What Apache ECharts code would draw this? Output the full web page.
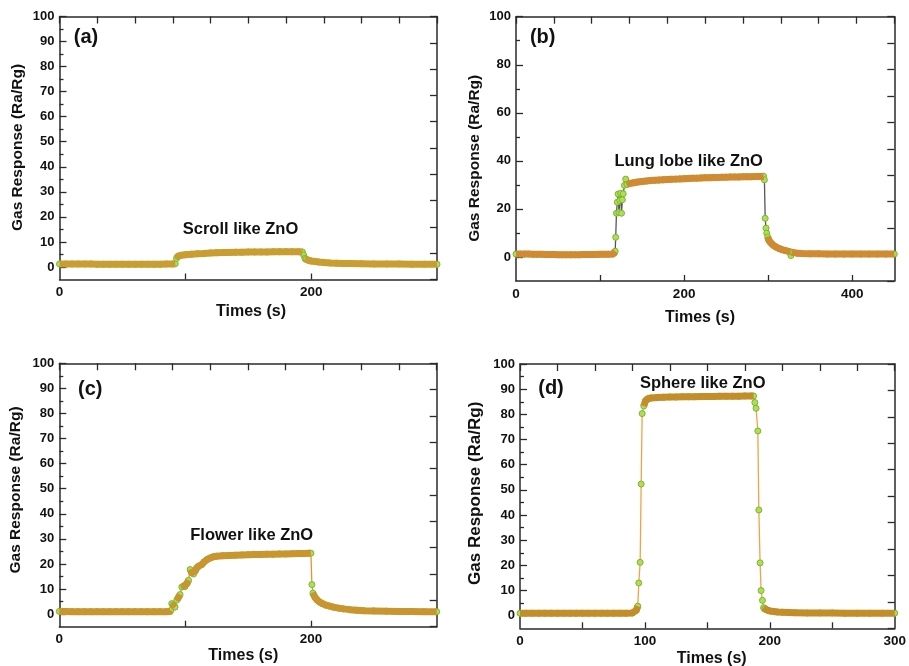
<!DOCTYPE html>
<html>
<head>
<meta charset="utf-8">
<script src="https://cdn.jsdelivr.net/npm/echarts@6/dist/echarts.min.js"></script>
<style>
html,body{margin:0;padding:0;background:#fff;}
#chart{width:909px;height:666px;}
</style>
</head>
<body>
<div id="chart"></div>
<script>
// ---------------- DATA ----------------
// (a) Scroll like ZnO
const timeA = [0,5,10,15,20,25,30,35,40,45,50,55,60,65,70,75,80,85,90,
  92,93,94,95,97,
  100,105,110,115,120,125,130,135,140,145,150,155,160,165,170,175,180,185,190,
  193,194,195,196,198,
  200,203,206,210,215,220,225,230,
  240,250,260,270,280,290,300];
const respA = [1.2,1.2,1.2,1.2,1.2,1.2,1.1,1.1,1.1,1.1,1.1,1.1,1.1,1.1,1.1,1.1,1.1,1.2,1.2,
  1.3,3.4,4.2,4.5,4.7,
  4.9,5.1,5.3,5.4,5.6,5.7,5.8,5.8,5.9,5.9,6.0,6.0,6.0,6.0,6.1,6.1,6.1,6.1,6.1,
  6.0,4.8,3.4,3.0,2.6,
  2.4,2.2,2.0,1.8,1.6,1.5,1.4,1.4,
  1.3,1.2,1.2,1.2,1.1,1.1,1.1];

// (b) Lung lobe like ZnO
const timeB = [0,5,10,15,20,25,30,35,40,45,50,55,60,65,70,75,80,85,90,95,100,105,110,115,
  117,118,118.6,119.5,120.5,121.5,122.5,123.5,124.5,125.5,126.5,127.5,129,130.5,132,
  135,140,145,150,155,160,165,170,175,180,185,190,195,200,205,210,215,220,225,230,235,240,245,250,255,260,265,270,275,280,285,290,
  293,294.5,295.5,296.4,297.4,298.3,299.5,300.5,302,304,306,308,310,313,316,320,325,326,327,328,330,335,340,
  350,360,370,380,390,400,410,420,430,440,450];
const respB = [1.2,1.2,1.2,1.2,1.1,1.1,1.1,1.0,1.0,1.0,0.9,0.9,0.9,0.9,0.9,0.9,1.0,1.0,1.0,1.0,1.1,1.1,1.1,1.2,
  1.6,2.4,8.2,18.2,22.8,26.2,18.5,23.5,26.5,18.2,23.8,26.3,29.8,32.4,30.2,
  30.6,30.9,31.2,31.4,31.6,31.8,31.9,32.0,32.1,32.2,32.3,32.4,32.5,32.6,32.7,32.8,32.8,32.9,33.0,33.0,33.1,33.1,33.2,33.2,33.3,33.3,33.3,33.4,33.4,33.4,33.5,33.5,
  33.5,33.6,32.1,16.1,12.0,9.9,8.3,7.2,6.3,5.5,4.9,4.4,4.0,3.5,3.1,2.7,2.2,2.1,0.6,2.0,1.8,1.5,1.4,
  1.3,1.3,1.2,1.2,1.2,1.2,1.2,1.2,1.2,1.2,1.2];

// (c) Flower like ZnO
const timeC = [0,5,10,15,20,25,30,35,40,45,50,55,60,65,70,75,80,85,
  88,88.6,89.4,90.7,92,93.4,94.5,96,97.4,99,100,101.5,102.7,104,105.3,106.7,108,109.4,111,113.3,115,117.3,120,122.6,125,
  130,135,140,145,150,155,160,165,170,175,180,185,190,195,
  198,200,200.8,201.6,202.5,203.5,205,207,209,212,215,218,222,226,231,236,242,250,
  260,270,280,290,300];
const respC = [1.1,1.1,1.0,1.0,1.0,1.0,1.0,1.0,1.0,1.0,1.0,1.0,1.0,1.0,1.0,1.0,1.0,1.0,
  1.1,1.5,4.2,3.6,2.8,5.6,6.5,7.8,10.8,11.2,11.0,12.2,13.5,17.8,16.5,16.0,17.2,18.5,19.2,19.8,20.8,21.7,22.4,22.9,23.1,
  23.3,23.4,23.5,23.6,23.7,23.8,23.8,23.9,23.9,24.0,24.0,24.1,24.2,24.2,
  24.3,24.3,11.8,8.4,7.4,6.5,5.6,4.8,4.2,3.6,3.2,2.8,2.4,2.1,1.8,1.6,1.4,1.3,
  1.2,1.1,1.1,1.0,1.0];

// (d) Sphere like ZnO
const timeD = [0,5,10,15,20,25,30,35,40,45,50,55,60,65,70,75,80,85,90,
  93,94.3,95.1,96.2,97,97.8,99.1,100.4,101.5,103,105,
  110,115,120,125,130,135,140,145,150,155,160,165,170,175,180,185,
  187,188,189,190.4,191.2,192.2,193,194.1,195,196,198,200,203,206,210,215,220,
  230,240,250,260,270,280,290,300];
const respD = [1.0,1.0,1.0,1.0,1.0,1.0,1.0,1.0,1.0,1.0,1.0,1.0,1.0,1.0,1.0,1.0,1.0,1.0,1.1,
  2.1,3.8,13.0,21.2,52.3,80.3,83.3,85.3,86.0,86.3,86.5,
  86.7,86.8,86.9,86.9,87.0,87.0,87.0,87.1,87.1,87.1,87.2,87.2,87.2,87.2,87.3,87.3,
  87.3,84.7,82.4,73.4,42.0,21.0,10.0,6.1,3.2,2.6,2.2,1.9,1.7,1.5,1.4,1.3,1.2,
  1.1,1.1,1.1,1.0,1.0,1.0,1.0,1.0];

// tick labels
const yLabelsACD = [0,10,20,30,40,50,60,70,80,90,100];
const yLabelsB = [0,20,40,60,80,100];
const xLabelsA = [0,200];
const xLabelsB = [0,200,400];
const xLabelsC = [0,200];
const xLabelsD = [0,100,200,300];

const panelLabels = ['(a)','(b)','(c)','(d)'];
const annotations = ['Scroll like ZnO','Lung lobe like ZnO','Flower like ZnO','Sphere like ZnO'];
const xTitle = 'Times (s)';
const yTitle = 'Gas Response (Ra/Rg)';

// ---------------- LAYOUT / STYLE ----------------
const FONT = "'Liberation Sans', Arial, Helvetica, sans-serif";
const AX = '#2a2a2a';
const panels = [
  {t:timeA, v:respA, grid:{left:59.5, top:16.5, width:377.5, height:263}, xmax:300, ymin:-5, xStep:100,
   xLabels:xLabelsA, yLabels:yLabelsACD, band:'#c99d2f', line:'#c99d2f', thr:1.0,
   ytitle:[18,147.5,15.5], xtitle:[251,311.5], plabel:[86,37.5], ann:[240.5,229.5]},
  {t:timeB, v:respB, grid:{left:516, top:16.7, width:378.3, height:264.3}, xmax:450, ymin:-10, xStep:100,
   xLabels:xLabelsB, yLabels:yLabelsB, band:'#d08a32', line:'#555555', thr:1.2,
   ytitle:[474.5,158.3,15.5], xtitle:[700,318], plabel:[542.7,37.5], ann:[688.7,161]},
  {t:timeC, v:respC, grid:{left:59.3, top:363.3, width:377.4, height:263.4}, xmax:300, ymin:-5, xStep:100,
   xLabels:xLabelsC, yLabels:yLabelsACD, band:'#c8952e', line:'#e8922e', thr:1.6,
   ytitle:[15.8,490,15.5], xtitle:[243.3,656], plabel:[90.3,389], ann:[251.7,535]},
  {t:timeD, v:respD, grid:{left:520, top:364, width:376.7, height:264.3}, xmax:300, ymin:-5, xStep:50,
   xLabels:xLabelsD, yLabels:yLabelsACD, band:'#c38d29', line:'#f2a245', thr:2.2,
   ytitle:[475.5,493.3,17], xtitle:[711.7,659], plabel:[551,388.5], ann:[702.7,383.7]}
];

function bandData(t, v, thr){
  const out = [];
  for (let i = 0; i < t.length; i++){
    if (i > 0 && Math.abs(v[i] - v[i-1]) > thr) out.push([(t[i] + t[i-1]) / 2, '-']);
    out.push([t[i], v[i]]);
  }
  return out;
}

const grids = [], xAxes = [], yAxes = [], series = [], graphics = [];
const lblStyle = {color:'#111', fontSize:13, fontWeight:'bold', fontFamily:FONT};
const lineSt = {color:AX, width:1.5};
const tickSt = {color:AX, width:1.3};

panels.forEach((p, i) => {
  grids.push(Object.assign({containLabel:false}, p.grid));
  const xTicks = [];
  for (let x = p.xStep; x < p.xmax; x += p.xStep) xTicks.push(x);
  const yStep = p.yLabels[1] - p.yLabels[0];
  const yMinor = p.yLabels.slice(0, -1).map(v => v + yStep / 2);

  xAxes.push({type:'value', gridIndex:i, position:'bottom', min:0, max:p.xmax,
    axisLine:{show:true, onZero:false, lineStyle:lineSt},
    axisTick:{show:true, inside:true, length:6, customValues:xTicks, lineStyle:tickSt},
    axisLabel:Object.assign({show:true, customValues:p.xLabels, margin:6}, lblStyle, {fontSize:13.5}),
    splitLine:{show:false}});
  xAxes.push({type:'value', gridIndex:i, position:'top', min:0, max:10, interval:1,
    axisLine:{show:true, onZero:false, lineStyle:lineSt},
    axisTick:{show:true, inside:true, length:7, lineStyle:tickSt},
    axisLabel:{show:false}, splitLine:{show:false}});

  yAxes.push({type:'value', gridIndex:i, position:'left', min:p.ymin, max:100,
    axisLine:{show:true, onZero:false, lineStyle:lineSt},
    axisTick:{show:true, inside:true, length:7, customValues:p.yLabels, lineStyle:tickSt},
    axisLabel:Object.assign({show:true, customValues:p.yLabels, margin:5}, lblStyle),
    splitLine:{show:false}});
  yAxes.push({type:'value', gridIndex:i, position:'left', min:p.ymin, max:100,
    axisLine:{show:false},
    axisTick:{show:true, inside:true, length:4, customValues:yMinor, lineStyle:tickSt},
    axisLabel:{show:false}, splitLine:{show:false}});
  yAxes.push({type:'value', gridIndex:i, position:'right', min:0, max:10, interval:1,
    axisLine:{show:true, onZero:false, lineStyle:lineSt},
    axisTick:{show:true, inside:true, length:7, lineStyle:tickSt},
    axisLabel:{show:false}, splitLine:{show:false}});

  const pts = p.t.map((t, k) => [t, p.v[k]]);
  series.push({type:'line', xAxisIndex:2*i, yAxisIndex:3*i, data:pts,
    symbol:'circle', symbolSize:6, showAllSymbol:true,
    itemStyle:{color:'#b2dc58', borderColor:'#78b82e', borderWidth:1},
    lineStyle:{color:p.line, width:1.3}, z:2, animation:false, silent:true});
  series.push({type:'line', xAxisIndex:2*i, yAxisIndex:3*i, data:bandData(p.t, p.v, p.thr),
    symbol:'none', connectNulls:false,
    lineStyle:{color:p.band, width:7, cap:'butt', join:'round'}, z:3, animation:false, silent:true});

  const txt = (x, y, s, size, rot) => ({type:'text', x:x, y:y, rotation:rot || 0, z:10,
    style:{text:s, x:0, y:0, fill:'#111', font:'bold ' + size + 'px ' + FONT, textAlign:'center', textVerticalAlign:'middle'}});
  graphics.push(txt(p.ytitle[0], p.ytitle[1], yTitle, p.ytitle[2], Math.PI / 2));
  graphics.push(txt(p.xtitle[0], p.xtitle[1], xTitle, 16));
  graphics.push(txt(p.plabel[0], p.plabel[1], panelLabels[i], 20));
  graphics.push(txt(p.ann[0], p.ann[1], annotations[i], 16.5));
});

const chart = echarts.init(document.getElementById('chart'), null, {renderer:'canvas'});
chart.setOption({
  animation:false,
  backgroundColor:'#ffffff',
  grid:grids, xAxis:xAxes, yAxis:yAxes, series:series, graphic:graphics
});
</script>
</body>
</html>
